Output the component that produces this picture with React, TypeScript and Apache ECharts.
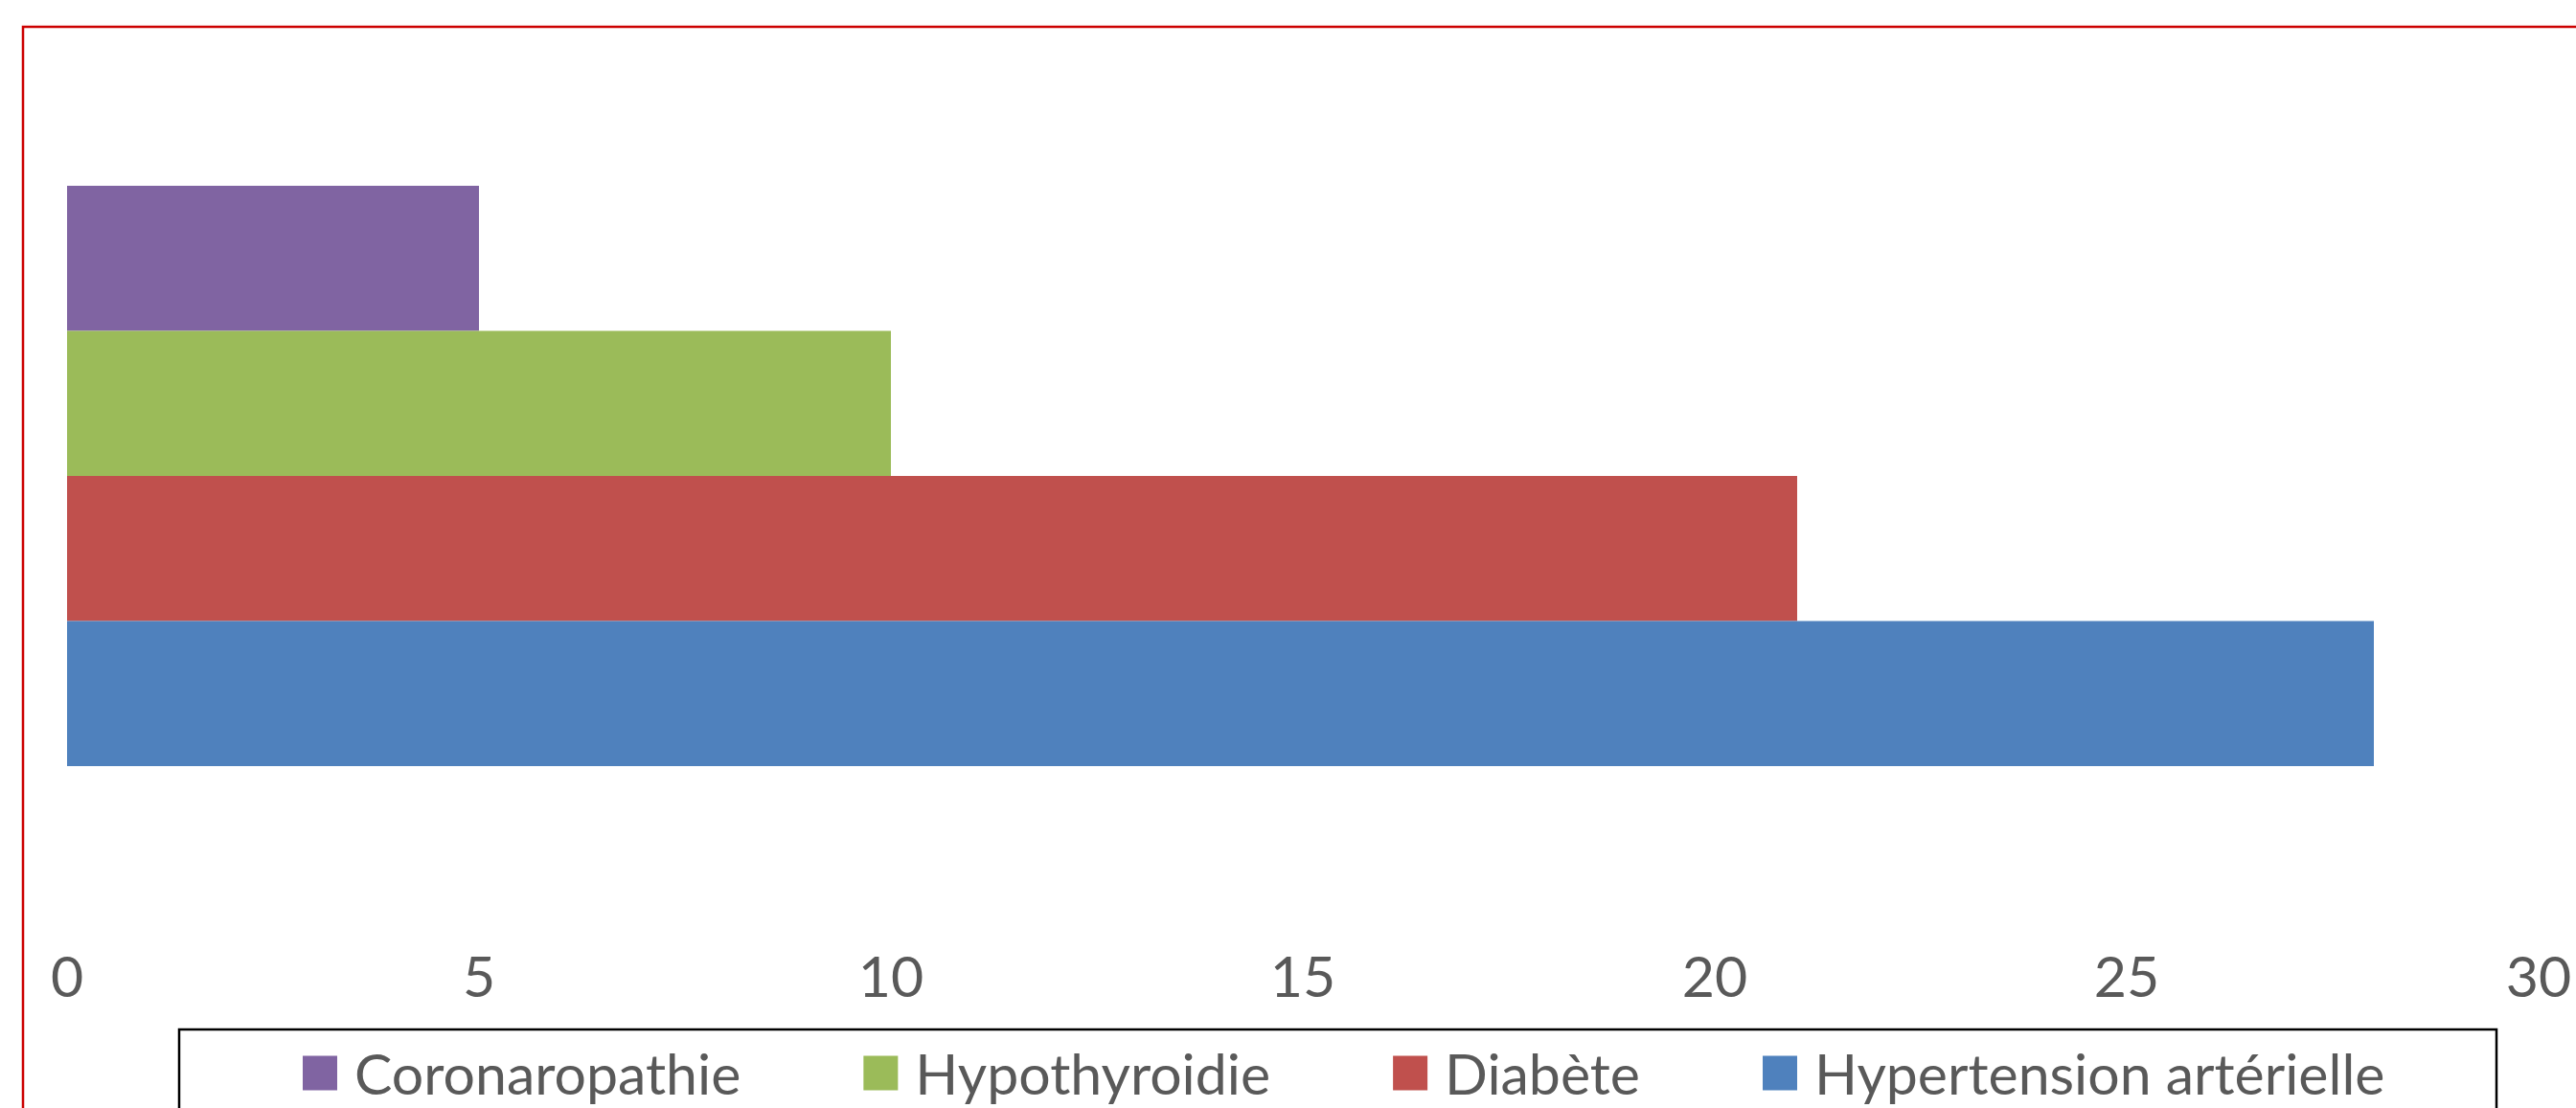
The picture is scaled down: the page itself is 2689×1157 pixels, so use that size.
import React, { useEffect, useRef } from "react";
import * as echarts from "echarts";

const categories = ["Comorbidités"];
const seriesNames = ["Coronaropathie", "Hypothyroidie", "Diabète", "Hypertension artérielle"];
const seriesValues = [5, 10, 21, 28];
const seriesColors = ["#8064A2", "#9BBB59", "#C0504D", "#4F81BD"];
const axisMin = 0;
const axisMax = 30;
const axisInterval = 5;

export default function App() {
  const ref = useRef<HTMLDivElement>(null);
  useEffect(() => {
    if (!ref.current) return;
    const chart = echarts.init(ref.current, null, { renderer: "svg" });
    const font = "Lato, 'Open Sans', sans-serif";
    chart.setOption({
      animation: false,
      backgroundColor: "#ffffff",
      grid: { left: 70, right: 39, top: 194, bottom: 357, containLabel: false },
      xAxis: {
        type: "value",
        min: axisMin,
        max: axisMax,
        interval: axisInterval,
        axisLine: { show: false },
        axisTick: { show: false },
        splitLine: { show: false },
        axisLabel: { color: "#595959", fontSize: 59, fontFamily: font, margin: 189 },
      },
      yAxis: {
        type: "category",
        data: categories,
        show: false,
      },
      legend: {
        data: seriesNames,
        left: 316,
        top: 1091,
        padding: 0,
        itemWidth: 36,
        itemHeight: 36,
        itemGap: 128,
        icon: "rect",
        textStyle: {
          color: "#595959",
          fontSize: 59,
          lineHeight: 56,
          fontFamily: font,
          padding: [0, 0, 0, 13],
        },
      },
      graphic: [
        {
          type: "rect",
          shape: { x: 24, y: 28, width: 3000, height: 2000 },
          style: { fill: "none", stroke: "#cc0000", lineWidth: 2.5 },
          silent: true,
        },
        {
          type: "rect",
          shape: { x: 187, y: 1075, width: 2419, height: 300 },
          style: { fill: "none", stroke: "#000000", lineWidth: 2.5 },
          silent: true,
        },
      ],
      series: seriesNames.map((name, i) => ({
        name,
        type: "bar",
        data: [seriesValues[i]],
        barGap: "0%",
        barCategoryGap: "0%",
        itemStyle: { color: seriesColors[i] },
      })),
    });
    return () => chart.dispose();
  }, []);
  return (
    <div
      ref={ref}
      style={{ position: "fixed", left: 0, top: 0, width: 2689, height: 1157 }}
    />
  );
}
